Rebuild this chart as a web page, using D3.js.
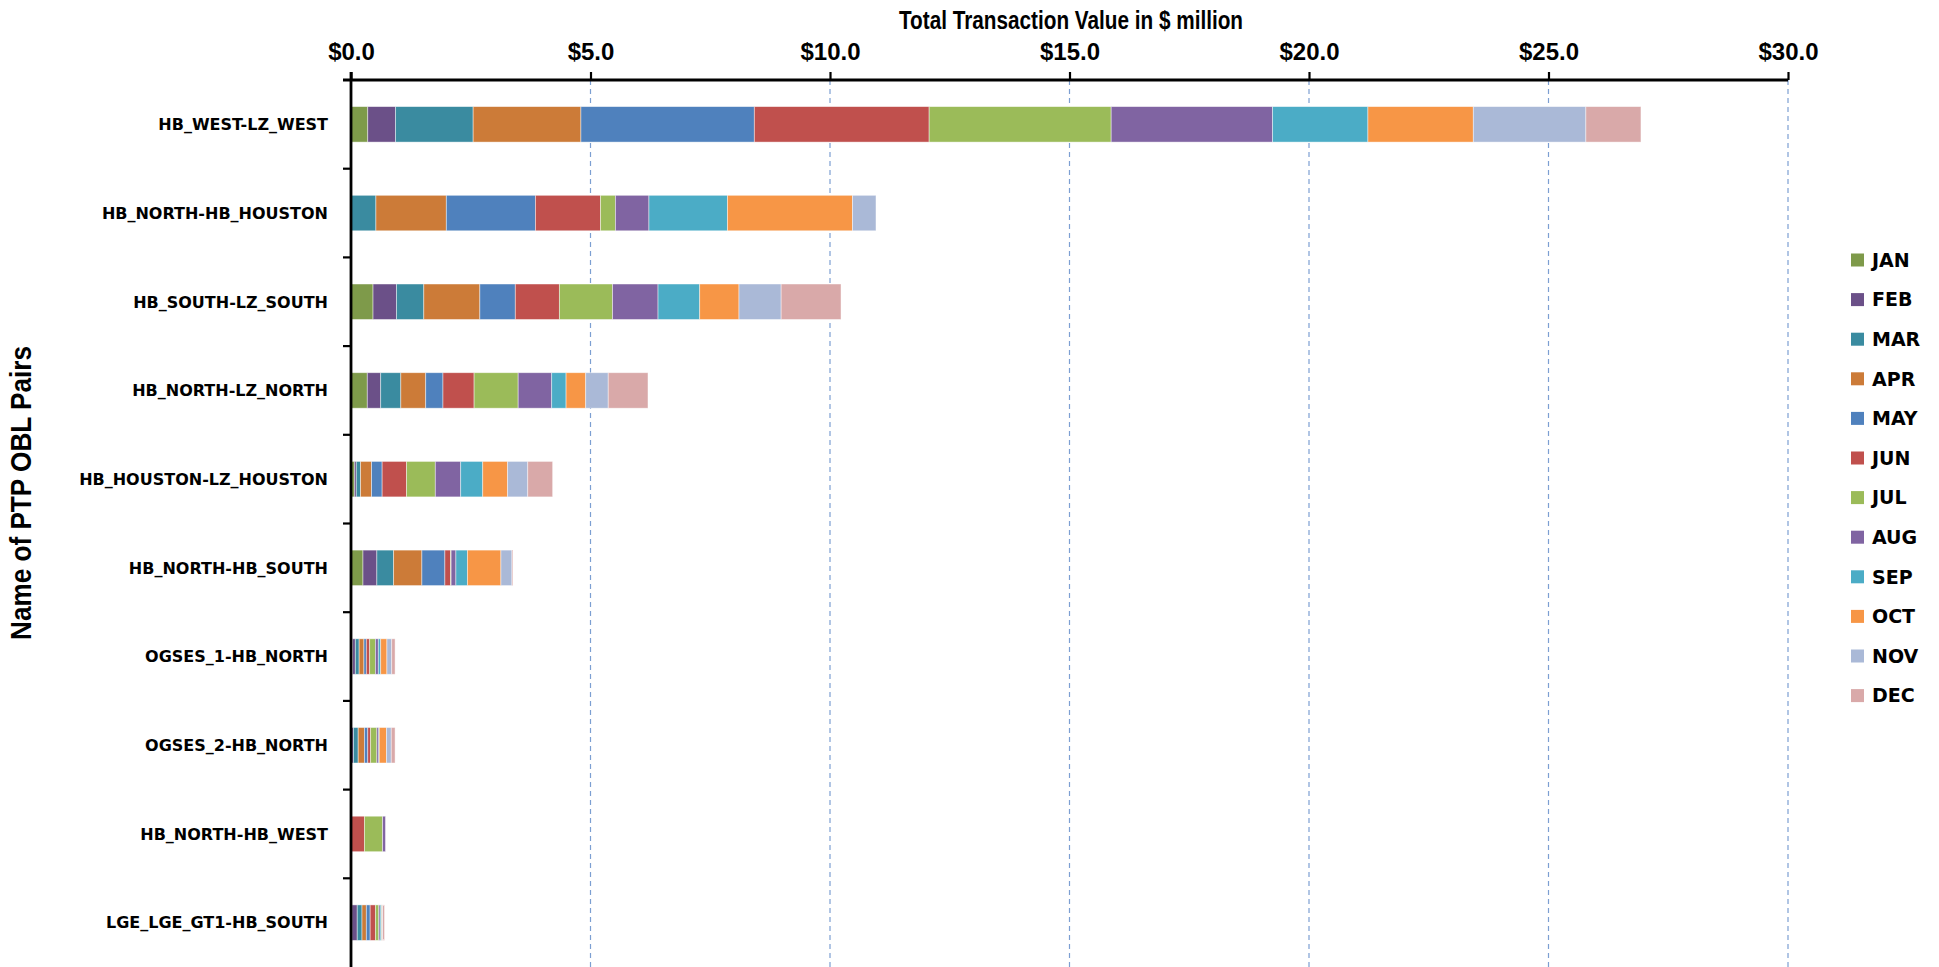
<!DOCTYPE html>
<html>
<head>
<meta charset="utf-8">
<script src="https://cdn.jsdelivr.net/npm/d3@7"></script>
<style>
  body { margin: 0; background: #fff; }
  svg { display: block; }
</style>
</head>
<body>
<div id="chart"></div>
<script>
var pairs = ["HB_WEST-LZ_WEST", "HB_NORTH-HB_HOUSTON", "HB_SOUTH-LZ_SOUTH", "HB_NORTH-LZ_NORTH",
    "HB_HOUSTON-LZ_HOUSTON", "HB_NORTH-HB_SOUTH", "OGSES_1-HB_NORTH", "OGSES_2-HB_NORTH",
    "HB_NORTH-HB_WEST", "LGE_LGE_GT1-HB_SOUTH"];

var months = ["JAN", "FEB", "MAR", "APR", "MAY", "JUN", "JUL", "AUG", "SEP", "OCT", "NOV", "DEC"];

var monthColors = ["#7E9A4A", "#6B5088", "#3A8BA0", "#CC7B38", "#4F81BD", "#C0504D",
    "#9BBB59", "#8064A2", "#4BACC6", "#F79646", "#AAB9D7", "#D9A9A9"];

// $ million per month, one row per pair (same order as pairs)
var values = [
    [0.35, 0.58, 1.62, 2.25, 3.62, 3.65, 3.80, 3.37, 1.99, 2.20, 2.35, 1.15],
    [0.00, 0.00, 0.52, 1.47, 1.86, 1.36, 0.31, 0.70, 1.64, 2.61, 0.49, 0.00],
    [0.46, 0.49, 0.57, 1.17, 0.74, 0.92, 1.11, 0.95, 0.87, 0.82, 0.88, 1.25],
    [0.34, 0.28, 0.42, 0.52, 0.36, 0.65, 0.92, 0.70, 0.30, 0.41, 0.47, 0.83],
    [0.07, 0.04, 0.09, 0.23, 0.22, 0.51, 0.60, 0.53, 0.46, 0.52, 0.42, 0.52],
    [0.25, 0.29, 0.35, 0.59, 0.48, 0.12, 0.01, 0.10, 0.24, 0.70, 0.23, 0.02],
    [0.03, 0.06, 0.08, 0.10, 0.05, 0.07, 0.12, 0.06, 0.05, 0.13, 0.10, 0.07],
    [0.01, 0.04, 0.10, 0.13, 0.07, 0.06, 0.13, 0.04, 0.01, 0.15, 0.10, 0.08],
    [0.00, 0.00, 0.00, 0.00, 0.00, 0.28, 0.38, 0.06, 0.00, 0.00, 0.00, 0.00],
    [0.02, 0.11, 0.10, 0.09, 0.08, 0.11, 0.07, 0.03, 0.03, 0.01, 0.01, 0.04]
];

var xTicks = [0, 5, 10, 15, 20, 25, 30];

var W = 1939, H = 967;
var margin = { top: 80, right: 151, bottom: 0, left: 351 };

var svg = d3.select("#chart").append("svg")
    .attr("width", W)
    .attr("height", H)
    .style("background-color", "#fff");

var x = d3.scaleLinear()
    .domain([0, 30])
    .range([margin.left, W - margin.right]);

var y = d3.scaleBand()
    .domain(pairs)
    .range([margin.top, H - margin.bottom])
    .paddingInner(0.6)
    .paddingOuter(0.3);

var color = d3.scaleOrdinal().domain(months).range(monthColors);

// table for the stack
var table = pairs.map(function (p, i) {
    var row = { pair: p };
    months.forEach(function (m, j) { row[m] = values[i][j]; });
    return row;
});
var series = d3.stack().keys(months)(table);

var calibri = "'Liberation Sans Narrow', 'Liberation Sans', Arial, sans-serif";
var verdana = "'DejaVu Sans', Verdana, sans-serif";

// vertical dashed gridlines
svg.append("g")
    .selectAll("line")
    .data(xTicks.slice(1))
    .enter().append("line")
    .attr("x1", function (d) { return x(d); })
    .attr("x2", function (d) { return x(d); })
    .attr("y1", margin.top)
    .attr("y2", H)
    .attr("stroke", "#7C9FD2")
    .attr("stroke-width", 1.2)
    .attr("stroke-dasharray", "5,4");

// stacked bars
svg.append("g")
    .selectAll("g")
    .data(series)
    .enter().append("g")
    .attr("fill", function (d) { return color(d.key); })
    .selectAll("rect")
    .data(function (d) { return d; })
    .enter().append("rect")
    .attr("x", function (d) { return x(d[0]); })
    .attr("y", function (d) { return y(d.data.pair); })
    .attr("width", function (d) { return Math.max(0, x(d[1]) - x(d[0])); })
    .attr("height", y.bandwidth())
    .attr("stroke", "#fff")
    .attr("stroke-opacity", 0.55)
    .attr("stroke-width", 0.8);

// x axis on top
var xAxis = svg.append("g")
    .attr("transform", "translate(0," + margin.top + ")")
    .call(d3.axisTop(x)
        .tickValues(xTicks)
        .tickSize(8)
        .tickSizeOuter(0)
        .tickPadding(12)
        .tickFormat(function (d) { return "$" + d.toFixed(1); }));
xAxis.select(".domain")
    .attr("d", "M" + (x(0) - 8) + ",0H" + x(30))
    .attr("stroke", "#000")
    .attr("stroke-width", 2.8);
xAxis.selectAll(".tick line").attr("stroke", "#000").attr("stroke-width", 2.2);
xAxis.selectAll(".tick text")
    .attr("fill", "#000")
    .style("font-family", calibri)
    .style("font-weight", "bold")
    .style("font-size", "24px");

// y axis
var yAxis = svg.append("g")
    .attr("transform", "translate(" + margin.left + ",0)");
yAxis.append("line")
    .attr("x1", 0).attr("x2", 0)
    .attr("y1", margin.top - 8).attr("y2", H)
    .attr("stroke", "#000")
    .attr("stroke-width", 2.8);

var step = y.step();
yAxis.selectAll("line.btick")
    .data(pairs.slice(1))
    .enter().append("line")
    .attr("class", "btick")
    .attr("x1", -8).attr("x2", 0)
    .attr("y1", function (d) { return y(d) - step * y.paddingInner() / 2; })
    .attr("y2", function (d) { return y(d) - step * y.paddingInner() / 2; })
    .attr("stroke", "#000")
    .attr("stroke-width", 2.2);

yAxis.selectAll("text")
    .data(pairs)
    .enter().append("text")
    .attr("x", -23)
    .attr("y", function (d) { return y(d) + y.bandwidth() / 2; })
    .attr("dy", "0.36em")
    .attr("text-anchor", "end")
    .style("font-family", verdana)
    .style("font-weight", "bold")
    .style("font-size", "16px")
    .text(function (d) { return d; });

// axis titles
svg.append("text")
    .attr("x", 1071)
    .attr("y", 29)
    .attr("text-anchor", "middle")
    .attr("textLength", 344)
    .attr("lengthAdjust", "spacingAndGlyphs")
    .style("font-family", calibri)
    .style("font-weight", "bold")
    .style("font-size", "25px")
    .text("Total Transaction Value in $ million");

svg.append("text")
    .attr("transform", "translate(31,493) rotate(-90)")
    .attr("text-anchor", "middle")
    .attr("textLength", 294)
    .attr("lengthAdjust", "spacingAndGlyphs")
    .style("font-family", calibri)
    .style("font-weight", "bold")
    .style("font-size", "29px")
    .text("Name of PTP OBL Pairs");

// legend
var legend = svg.append("g")
    .attr("transform", "translate(1851,260)");

var items = legend.selectAll("g")
    .data(months)
    .enter().append("g")
    .attr("transform", function (d, i) { return "translate(0," + (i * 39.6) + ")"; });

items.append("rect")
    .attr("x", 0)
    .attr("y", -6.5)
    .attr("width", 13)
    .attr("height", 13)
    .attr("fill", function (d) { return color(d); });

items.append("text")
    .attr("x", 21)
    .attr("y", 0)
    .attr("dy", "0.36em")
    .style("font-family", verdana)
    .style("font-weight", "bold")
    .style("font-size", "19px")
    .text(function (d) { return d; });
</script>
</body>
</html>
